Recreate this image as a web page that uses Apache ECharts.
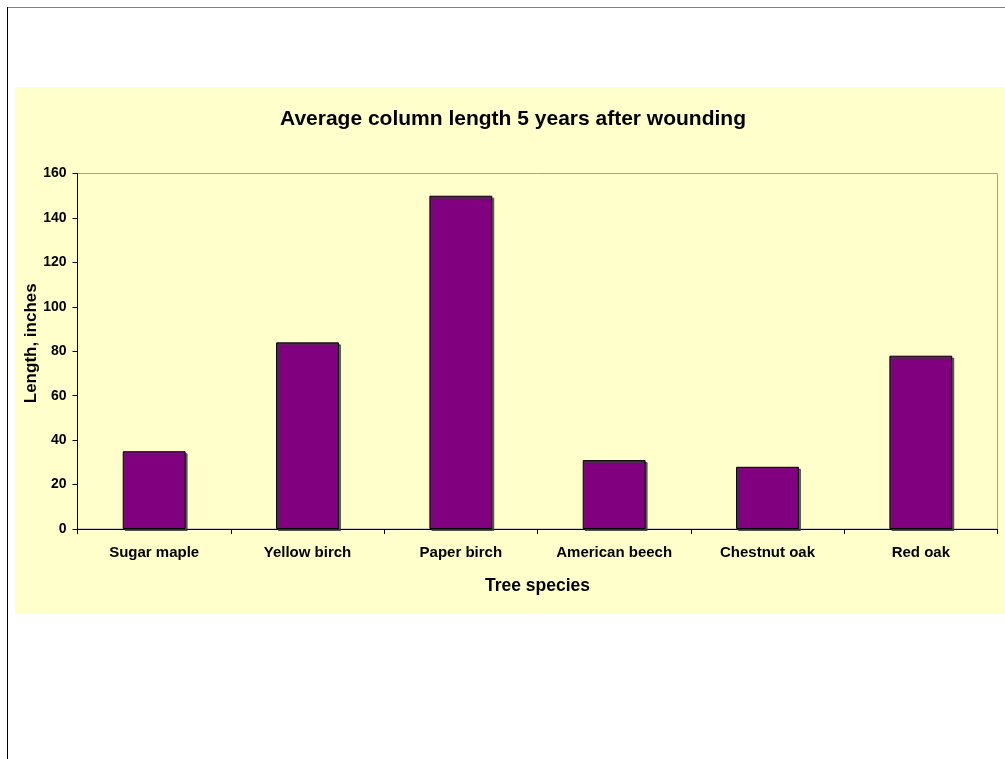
<!DOCTYPE html>
<html>
<head>
<meta charset="utf-8">
<script src="https://cdn.jsdelivr.net/npm/echarts@6/dist/echarts.min.js"></script>
<style>
  html, body { margin: 0; padding: 0; background: #ffffff; }
  #chart { width: 1005px; height: 759px; }
</style>
</head>
<body>
<div id="chart"></div>
<script>
// Tree species and their average column length (inches) five years after wounding
const species = ['Sugar maple', 'Yellow birch', 'Paper birch', 'American beech', 'Chestnut oak', 'Red oak'];
const columnLength = [35, 84, 150, 31, 28, 78];
const yTicks = { min: 0, max: 160, step: 20 };

const chart = echarts.init(document.getElementById('chart'), null, { renderer: 'canvas' });
const FONT = '"Liberation Sans", Arial, sans-serif';

chart.setOption({
  backgroundColor: '#ffffff',
  animation: false,
  textStyle: { fontFamily: FONT },
  graphic: [
    // outer page frame lines
    { type: 'line', z: 0, shape: { x1: 7, y1: 7.5, x2: 1005, y2: 7.5 }, style: { stroke: '#808080', lineWidth: 1 } },
    { type: 'line', z: 0, shape: { x1: 7.5, y1: 7, x2: 7.5, y2: 759 }, style: { stroke: '#000000', lineWidth: 1 } },
    // chart area background
    { type: 'rect', z: -10, shape: { x: 15, y: 87, width: 990, height: 527 }, style: { fill: '#FFFFCC' } }
  ],
  title: {
    text: 'Average column length 5 years after wounding',
    left: 508,
    top: 104,
    textAlign: 'center',
    textStyle: { fontFamily: FONT, fontSize: 21, fontWeight: 'bold', color: '#000000' }
  },
  grid: {
    left: 77.5,
    right: 7.5,
    top: 173.5,
    bottom: 230,
    show: true,
    backgroundColor: 'transparent',
    borderColor: '#a0a0a0',
    borderWidth: 1
  },
  xAxis: {
    type: 'category',
    data: species,
    name: 'Tree species',
    nameLocation: 'middle',
    nameGap: 48,
    nameTextStyle: { fontFamily: FONT, fontSize: 17.5, fontWeight: 'bold', color: '#000000' },
    axisLine: { lineStyle: { color: '#000000', width: 1 } },
    axisTick: { show: true, inside: false, length: 5, alignWithLabel: false, lineStyle: { color: '#000000' } },
    axisLabel: { margin: 16, fontFamily: FONT, fontSize: 15, fontWeight: 'bold', color: '#000000', interval: 0 },
    splitLine: { show: false }
  },
  yAxis: {
    type: 'value',
    min: yTicks.min,
    max: yTicks.max,
    interval: yTicks.step,
    name: 'Length, inches',
    nameLocation: 'middle',
    nameGap: 38,
    nameMoveOverlap: false,
    nameRotate: 90,
    nameTextStyle: { fontFamily: FONT, fontSize: 17, fontWeight: 'bold', color: '#000000', padding: [0, 0, 0, 16] },
    axisLine: { show: true, lineStyle: { color: '#000000', width: 1 } },
    axisTick: { show: true, inside: false, length: 5, lineStyle: { color: '#000000' } },
    axisLabel: { margin: 11, fontFamily: FONT, fontSize: 14, fontWeight: 'bold', color: '#000000' },
    splitLine: { show: false }
  },
  series: [{
    type: 'bar',
    data: columnLength,
    barWidth: '41%',
    itemStyle: {
      color: '#800080',
      borderColor: '#000000',
      borderWidth: 1,
      shadowColor: 'rgba(60,60,60,0.8)',
      shadowBlur: 0,
      shadowOffsetX: 2,
      shadowOffsetY: 2
    }
  }]
});
</script>
</body>
</html>
